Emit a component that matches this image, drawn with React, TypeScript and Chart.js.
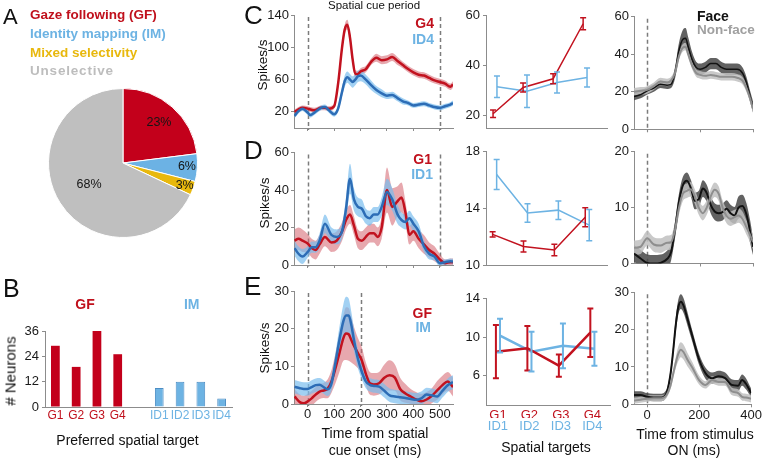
import React, { useEffect, useRef } from "react";
import { Chart, registerables } from "chart.js";

Chart.register(...registerables);

const W = 762;
const H = 460;
const FONT = "'Liberation Sans', Arial, Helvetica, sans-serif";
Chart.defaults.font.family = FONT;
Chart.defaults.color = "#1a1a1a";

const RED = "#C2121F";
const RED_TXT = "#C0101C";
const RED_BAND = "rgba(212, 96, 108, 0.55)";
const BLUE = "#2D6DB6";
const BLUE_BAND = "rgba(122, 190, 238, 0.7)";
const LBLUE = "#6DB3E3";
const FACE = "#121212";
const FACE_BAND = "rgba(70, 70, 70, 0.85)";
const NONFACE = "#8E8E8E";
const NONFACE_BAND = "rgba(192, 192, 192, 0.85)";
const AXIS = "#8C8C8C";
const CUE = "#7C7C7C";

// ---------- Panel A ----------
const cellClasses = ["Gaze following (GF)", "Identity mapping (IM)", "Mixed selectivity", "Unselective"];
const classPercents = [23, 6, 3, 68];
const classColors = ["#C3001B", "#6CB2E4", "#E8B80D", "#BFBFBF"];

// ---------- Panel B ----------
const gfTargets = ["G1", "G2", "G3", "G4"];
const imTargets = ["ID1", "ID2", "ID3", "ID4"];
const gfCounts = [29, 19, 36, 25];
const imCounts = [9, 12, 12, 4];
const countTicks = [0, 12, 24, 36];

// ---------- Time course (spatial cue) ----------
const cueTicks = [0, 100, 200, 300, 400, 500];

// C1: G4 vs ID4
const c1Time = [-50, -35, -20, 0, 10, 25, 50, 65, 80, 100, 115, 130, 140, 150, 160, 170, 180, 190, 200, 220, 240, 260, 280, 300, 320, 340, 360, 380, 400, 420, 440, 460, 480, 500, 520, 540, 550];
const c1G4 = [20, 23, 25, 24, 23, 22, 25, 25, 24, 27, 55, 100, 122, 128, 112, 85, 67, 67, 70, 73, 82, 87, 84, 85, 88, 83, 78, 73, 69, 66, 65, 62, 59, 57, 55, 51, 54];
const c1G4Sem = [3, 3, 3, 3, 3, 3, 3, 3, 3, 3, 5, 6, 6, 6, 6, 6, 5, 4, 4, 4, 4, 5, 5, 5, 5, 5, 4, 4, 4, 4, 4, 4, 4, 4, 4, 4, 4];
const c1ID4 = [15, 21, 24, 19, 16, 19, 25, 26, 22, 17, 24, 45, 58, 63, 60, 57, 60, 64, 65, 60, 53, 47, 43, 40, 41, 37, 33, 31, 28, 29, 30, 28, 26, 25, 27, 29, 31];
const c1ID4Sem = [3, 3, 3, 3, 3, 3, 3, 3, 3, 3, 4, 6, 7, 7, 7, 7, 7, 7, 7, 6, 6, 5, 5, 4, 4, 4, 4, 3, 3, 3, 3, 3, 3, 3, 3, 3, 3];
const c1YTicks = [20, 60, 100, 140];

// D1: G1 vs ID1
const d1Time = [-50, -35, -20, 0, 15, 30, 45, 65, 90, 110, 130, 145, 160, 175, 190, 205, 220, 235, 250, 265, 280, 300, 320, 340, 355, 370, 385, 400, 420, 440, 460, 480, 500, 520, 540, 550];
const d1G1 = [13, 14, 13, 11.5, 9, 8, 11, 15, 12, 13, 18, 24, 27, 21, 14, 13, 15, 17, 17, 15, 20, 40, 31, 34, 36, 28, 16, 18, 14, 11, 8, 6, 3, 1, 1.5, 1.5];
const d1G1Sem = [6, 6, 6, 5, 5, 5, 5, 5, 5, 5, 5, 5, 5, 5, 5, 5, 5, 5, 5, 5, 6, 12, 10, 8, 8, 6, 5, 5, 5, 5, 4, 4, 3, 2, 2, 2];
const d1ID1 = [9, 6, 4.5, 7, 9.5, 9.5, 13, 22, 16, 15, 18, 30, 46, 35, 31, 30, 26, 25, 27, 27, 31, 39, 35, 27, 24, 23, 25, 22, 18, 10, 6, 4.5, 1, 1.5, 2, 1.8];
const d1ID1Sem = [4, 4, 4, 3, 3, 3, 4, 5, 4, 4, 4, 6, 8, 6, 5, 5, 4, 4, 4, 4, 5, 7, 6, 5, 4, 4, 4, 4, 4, 3, 3, 2, 2, 1.5, 1.5, 1.5];
const d1YTicks = [0, 20, 40, 60];

// E1: GF vs IM population
const e1Time = [-50, -30, -15, 0, 15, 30, 45, 60, 75, 90, 105, 120, 135, 145, 155, 165, 175, 190, 205, 220, 235, 250, 270, 290, 310, 330, 350, 370, 390, 410, 430, 450, 470, 490, 510, 530, 550];
const e1GF = [2, 0.5, 0.2, 0.7, 1.5, 2.5, 3.3, 3.6, 4, 6, 9.5, 13.5, 17.5, 18.7, 18.5, 17, 15.5, 13.5, 11.5, 8, 5.5, 5.2, 5.5, 7, 7.6, 7, 4, 2.8, 2, 1.2, 0.7, 1.2, 2.2, 3.6, 5, 6, 4.5];
const e1GFSem = [2, 2, 2, 2, 2, 2, 2, 2, 2.5, 3, 4, 5, 6, 7, 7, 6, 5, 4, 3.5, 3, 3, 3, 3, 3.5, 4, 3.5, 3, 2.5, 2, 2, 2, 2, 2, 2.5, 2.5, 2.5, 2.5];
const e1IM = [4.6, 4.2, 4, 4, 4.5, 5, 5.1, 4.5, 3.9, 5.5, 11, 17, 22, 23.5, 23.5, 21, 17, 12, 8.5, 6, 5.1, 4.8, 4.6, 3.5, 2.3, 2, 1.8, 1.6, 1.3, 1.1, 1.5, 2.5, 2.3, 2, 3.5, 5, 5.8];
const e1IMSem = [1.8, 1.8, 1.8, 1.8, 1.8, 1.8, 1.8, 1.8, 1.8, 2, 2.5, 3.5, 4.5, 5, 4.5, 3.5, 3, 2.5, 2, 1.8, 1.8, 1.8, 1.8, 1.8, 1.8, 1.8, 1.8, 1.8, 1.8, 1.8, 1.8, 1.8, 1.8, 1.8, 1.8, 1.8, 1.8];
const e1YTicks = [0, 10, 20, 30];

// ---------- Spatial target tuning ----------
const targetNums = [1, 2, 3, 4];
const c2GF = [20.5, 31, 34.5, 56.5];
const c2GFErr = [1.5, 1.8, 2, 2.4];
const c2IM = [31.3, 29.5, 33, 35];
const c2IMErr = [4.3, 6.5, 4.2, 3.8];
const c2YTicks = [20, 40, 60];

const d2GF = [12.15, 11.3, 11.05, 13.35];
const d2GFErr = [0.18, 0.38, 0.4, 0.67];
const d2IM = [16.35, 13.65, 13.85, 12.8];
const d2IMErr = [1.05, 0.65, 0.65, 1.1];
const d2YTicks = [10, 14, 18];

const e2GF = [8.5, 8.85, 7.05, 10.45];
const e2GFErr = [2.75, 2.3, 1.15, 2.5];
const e2IM = [10.15, 8.5, 9.1, 8.8];
const e2IMErr = [1.75, 2.05, 2.3, 1.75];
const e2YTicks = [6, 10, 14];

// ---------- Face vs non-face ----------
const stimTicks = [0, 200, 400];

const c3Time = [-50, -25, 0, 25, 50, 75, 90, 105, 120, 135, 145, 155, 170, 185, 200, 220, 240, 260, 280, 300, 320, 340, 360, 375, 390, 400];
const c3Face = [17.5, 18.5, 20.5, 22, 24, 23.5, 24, 30, 42, 48, 48.5, 44, 37, 33, 32, 33, 35, 35, 33, 32, 32, 32, 30, 25, 17, 12];
const c3FaceSem = [2, 2, 2, 2, 2, 2, 2, 3, 4, 5, 5.5, 5, 4, 3, 3, 3, 3, 3, 3, 3, 3, 3, 3, 3, 3, 3];
const c3Non = [20, 20.5, 21, 23, 25.5, 25, 26, 30, 39, 43.5, 44, 40, 34, 30, 29, 28.5, 29, 28.5, 28, 28, 28, 27.5, 26, 22, 16, 11];
const c3NonSem = [2, 2, 2, 2, 2, 2, 2, 2, 2, 2, 2, 2, 2, 2, 2, 2, 2, 2, 2, 2, 2, 2, 2, 2, 2, 2];
const c3YTicks = [0, 20, 40, 60];

const d3Time = [-50, -25, 0, 25, 50, 75, 90, 105, 120, 135, 150, 165, 180, 195, 210, 225, 240, 255, 270, 285, 300, 315, 330, 345, 360, 375, 390, 400];
const d3Face = [1.8, 0.9, 0.1, 0, 0.1, 0.8, 2, 6, 11, 14, 14.8, 13.5, 11.2, 11.5, 13.4, 12.6, 10.5, 9.3, 9, 9.2, 9.8, 9, 8.6, 10, 10.3, 8.8, 5.5, 3];
const d3FaceSem = [1.5, 1.5, 1.5, 1.5, 1.5, 1.5, 1.5, 1.5, 1.5, 1.5, 1.5, 1.5, 1.5, 1.5, 1.5, 1.5, 1.5, 1.5, 1.5, 1.5, 1.5, 1.5, 1.5, 2, 2, 2, 2, 1.5];
const d3Non = [2.8, 3, 4.5, 3.4, 3.2, 3.7, 3.8, 6, 10, 12.5, 13, 13.3, 12, 10, 9, 10, 12, 13.2, 12.5, 10, 8.5, 8, 8.3, 8.6, 8, 6.5, 5, 3.8];
const d3NonSem = [1.3, 1.3, 1.3, 1.3, 1.3, 1.3, 1.3, 1.3, 1.3, 1.3, 1.3, 1.3, 1.3, 1.3, 1.3, 1.3, 1.3, 1.3, 1.3, 1.3, 1.3, 1.3, 1.3, 1.3, 1.3, 1.3, 1.3, 1.3];
const d3YTicks = [0, 10, 20];

const e3Time = [-50, -25, 0, 25, 50, 75, 90, 100, 110, 120, 130, 140, 155, 175, 200, 225, 250, 275, 300, 325, 350, 365, 380, 400];
const e3Face = [2.5, 2.5, 2, 1.8, 1.8, 3, 8, 14, 21, 26, 27.5, 26.5, 23, 18, 12, 8.3, 7, 7.5, 7, 5.2, 5, 6.5, 5.5, 3];
const e3FaceSem = [1, 1, 1, 1, 1, 1, 1.2, 1.5, 2, 2, 2, 2, 1.8, 1.5, 1.5, 1.5, 1.5, 1.5, 1.5, 1.5, 1.5, 1.5, 1.5, 1.2];
const e3Non = [1, 1.2, 1.5, 1.6, 1.6, 2.5, 5, 8, 11, 13.5, 14.6, 14, 12, 9.7, 6.5, 5.2, 6.5, 6, 6, 3.5, 3, 2, 1.8, 1.5];
const e3NonSem = [0.8, 0.8, 0.8, 0.8, 0.8, 0.8, 1, 1.2, 1.5, 2, 2, 2, 1.8, 1.5, 1.2, 1, 1, 1, 1, 1, 1, 1, 1, 1];
const e3YTicks = [0, 10, 20, 30];

// ---------- plugins ----------
const cuePlugin = {
  id: "cue",
  beforeDatasetsDraw(chart: any, _a: any, opts: any) {
    const lines: number[] = (opts && opts.lines) || [];
    if (!lines.length) return;
    const { top, bottom } = chart.chartArea;
    const ctx = chart.ctx;
    const xs = chart.scales.x;
    ctx.save();
    ctx.strokeStyle = CUE;
    ctx.lineWidth = 1.5;
    ctx.setLineDash([4, 3]);
    lines.forEach((v) => {
      const x = Math.round(xs.getPixelForValue(v)) + 0.5;
      ctx.beginPath();
      ctx.moveTo(x, top + 2);
      ctx.lineTo(x, bottom + 2);
      ctx.stroke();
    });
    ctx.restore();
  },
};

const errPlugin = {
  id: "errbars",
  afterDatasetsDraw(chart: any) {
    const ctx = chart.ctx;
    const ys = chart.scales.y;
    chart.data.datasets.forEach((ds: any, di: number) => {
      if (!ds.errs) return;
      const meta = chart.getDatasetMeta(di);
      ctx.save();
      ctx.strokeStyle = ds.borderColor;
      ctx.lineWidth = ds.errWidth || 1.5;
      meta.data.forEach((pt: any, i: number) => {
        const v = ds.data[i].y;
        const e = ds.errs[i];
        const x = pt.x;
        const y1 = ys.getPixelForValue(v + e);
        const y2 = ys.getPixelForValue(v - e);
        ctx.beginPath();
        ctx.moveTo(x, y1);
        ctx.lineTo(x, y2);
        ctx.moveTo(x - 3, y1);
        ctx.lineTo(x + 3, y1);
        ctx.moveTo(x - 3, y2);
        ctx.lineTo(x + 3, y2);
        ctx.stroke();
      });
      ctx.restore();
    });
  },
};

const pieTextPlugin = {
  id: "pieText",
  afterDatasetsDraw(chart: any, _a: any, opts: any) {
    const meta = chart.getDatasetMeta(0);
    const ctx = chart.ctx;
    ctx.save();
    ctx.fillStyle = "#151515";
    ctx.font = `12.5px ${FONT}`;
    ctx.textAlign = "center";
    ctx.textBaseline = "middle";
    meta.data.forEach((arc: any, i: number) => {
      const p = arc.getProps(["x", "y", "startAngle", "endAngle", "outerRadius"], true);
      const a = (p.startAngle + p.endAngle) / 2;
      const r = p.outerRadius * opts.radial[i];
      ctx.fillText(`${classPercents[i]}%`, p.x + Math.cos(a) * r, p.y + Math.sin(a) * r);
    });
    ctx.restore();
  },
};

// ---------- helpers ----------
function baseOpts(L: number, T: number, R: number, B: number, yW: number, xH: number) {
  return {
    responsive: false,
    animation: false,
    devicePixelRatio: 1,
    events: [],
    layout: { autoPadding: false, padding: { left: L - yW, top: T, right: W - R, bottom: H - B - xH } },
  };
}

function yAxis(min: number, max: number, ticks: number[], yW: number, pad = 2) {
  return {
    type: "linear",
    min,
    max,
    bounds: "data",
    afterBuildTicks: (s: any) => {
      s.ticks = ticks.map((v) => ({ value: v }));
    },
    afterFit: (s: any) => {
      s.width = yW;
    },
    ticks: { padding: pad, color: "#1a1a1a", font: { size: 13, family: FONT }, callback: (v: any) => String(v) },
    grid: { display: true, drawOnChartArea: false, drawTicks: true, tickLength: 3, color: AXIS },
    border: { display: true, color: AXIS, width: 1 },
  };
}

function timeXAxis(min: number, max: number, ticks: number[], labels: boolean, xH: number) {
  return {
    type: "linear",
    min,
    max,
    bounds: "data",
    afterBuildTicks: (s: any) => {
      s.ticks = ticks.map((v) => ({ value: v }));
    },
    afterFit: (s: any) => {
      s.height = xH;
    },
    ticks: { display: labels, autoSkip: false, maxRotation: 0, padding: 0, color: "#1a1a1a", font: { size: 13, family: FONT }, callback: (v: any) => String(v) },
    grid: { display: true, drawOnChartArea: false, drawTicks: true, tickLength: 3, color: AXIS },
    border: { display: true, color: AXIS, width: 1 },
  };
}

type Series = { mean: number[]; sem: number[]; line: string; band: string; lw: number };

function timeChart(o: {
  t: number[];
  series: Series[];
  box: number[];
  xr: number[];
  xt: number[];
  xLabels: boolean;
  yr: number[];
  yt: number[];
  cues: number[];
}) {
  const [L, T, R, B] = o.box;
  const n = o.series.length;
  const datasets: any[] = [];
  o.series.forEach((s, k) => {
    datasets.push({
      data: o.t.map((x, i) => ({ x, y: s.mean[i] + s.sem[i] })),
      borderWidth: 0,
      borderColor: "rgba(0,0,0,0)",
      pointRadius: 0,
      fill: "+1",
      backgroundColor: s.band,
      cubicInterpolationMode: "monotone",
      order: 20 - k,
    });
    datasets.push({
      data: o.t.map((x, i) => ({ x, y: s.mean[i] - s.sem[i] })),
      borderWidth: 0,
      borderColor: "rgba(0,0,0,0)",
      pointRadius: 0,
      fill: false,
      cubicInterpolationMode: "monotone",
      order: 20 - k,
    });
  });
  o.series.forEach((s, k) => {
    datasets.push({
      data: o.t.map((x, i) => ({ x, y: s.mean[i] })),
      borderColor: s.line,
      borderWidth: s.lw,
      pointRadius: 0,
      fill: false,
      cubicInterpolationMode: "monotone",
      order: n - k,
    });
  });
  return {
    type: "line",
    data: { datasets },
    options: {
      ...baseOpts(L, T, R, B, 40, 22),
      plugins: { legend: { display: false }, tooltip: { enabled: false }, cue: { lines: o.cues } },
      scales: {
        x: timeXAxis(o.xr[0], o.xr[1], o.xt, o.xLabels, 22),
        y: yAxis(o.yr[0], o.yr[1], o.yt, 40),
      },
    },
    plugins: [cuePlugin],
  };
}

function targetChart(o: {
  gf: number[];
  gfErr: number[];
  im: number[];
  imErr: number[];
  box: number[];
  xr: number[];
  yr: number[];
  yt: number[];
  lw: number;
  labels: boolean;
}) {
  const [L, T, R, B] = o.box;
  const scales: any = {
    x: {
      type: "linear",
      min: o.xr[0],
      max: o.xr[1],
      bounds: "data",
      weight: 0,
      afterBuildTicks: (s: any) => {
        s.ticks = targetNums.map((v) => ({ value: v }));
      },
      afterFit: (s: any) => {
        s.height = 13;
      },
      ticks: {
        display: o.labels,
        autoSkip: false,
        maxRotation: 0,
        padding: 2.5,
        color: RED_TXT,
        font: { size: 13, family: FONT },
        callback: (v: any) => gfTargets[Math.round(v) - 1],
      },
      grid: { display: false, drawTicks: false },
      border: { display: true, color: AXIS, width: 1 },
    },
    y: yAxis(o.yr[0], o.yr[1], o.yt, 40, 3),
  };
  if (o.labels) {
    scales.x2 = {
      type: "linear",
      position: "bottom",
      min: o.xr[0],
      max: o.xr[1],
      bounds: "data",
      weight: 1,
      afterBuildTicks: (s: any) => {
        s.ticks = targetNums.map((v) => ({ value: v }));
      },
      afterFit: (s: any) => {
        s.height = 14;
      },
      ticks: {
        autoSkip: false,
        maxRotation: 0,
        padding: 1,
        color: LBLUE,
        font: { size: 13, family: FONT },
        callback: (v: any) => imTargets[Math.round(v) - 1],
      },
      grid: { display: false, drawTicks: false },
      border: { display: false },
    };
  }
  return {
    type: "line",
    data: {
      datasets: [
        {
          data: targetNums.map((k, i) => ({ x: k - 0.065, y: o.gf[i] })),
          errs: o.gfErr,
          errWidth: o.lw > 2 ? 2 : 1.5,
          borderColor: RED,
          borderWidth: o.lw,
          pointRadius: 0,
          tension: 0,
          fill: false,
        },
        {
          data: targetNums.map((k, i) => ({ x: k + 0.065, y: o.im[i] })),
          errs: o.imErr,
          errWidth: o.lw > 2 ? 2 : 1.5,
          borderColor: LBLUE,
          borderWidth: o.lw,
          pointRadius: 0,
          tension: 0,
          fill: false,
        },
      ],
    },
    options: {
      ...baseOpts(L, T, R, B, 40, o.labels ? 27 : 13),
      plugins: { legend: { display: false }, tooltip: { enabled: false } },
      scales,
    },
    plugins: [errPlugin],
  };
}

function pieChart() {
  return {
    type: "pie",
    data: {
      labels: cellClasses,
      datasets: [{ data: classPercents, backgroundColor: classColors, borderColor: "#ffffff", borderWidth: 1 }],
    },
    options: {
      responsive: false,
      animation: false,
      devicePixelRatio: 1,
      events: [],
      layout: { autoPadding: false, padding: { left: 48, top: 88, right: W - 198, bottom: H - 238 } },
      plugins: { legend: { display: false }, tooltip: { enabled: false }, pieText: { radial: [0.73, 0.86, 0.88, 0.54] } },
    },
    plugins: [pieTextPlugin],
  };
}

function barChart() {
  const labels = [...gfTargets, "", ...imTargets];
  const values = [...gfCounts, null, ...imCounts];
  const fills = [...gfTargets.map(() => "#C3001B"), "rgba(0,0,0,0)", ...imTargets.map(() => LBLUE)];
  const edges = [...gfTargets.map(() => "#C3001B"), "rgba(0,0,0,0)", ...imTargets.map(() => "#4C8DC4")];
  const edgeW = [...gfTargets.map(() => 0), 0, ...imTargets.map(() => 1)];
  return {
    type: "bar",
    data: {
      labels,
      datasets: [
        { data: values, backgroundColor: fills, borderColor: edges, borderWidth: edgeW, barPercentage: 0.42, categoryPercentage: 1 },
      ],
    },
    options: {
      ...baseOpts(45, 331, 232, 407, 40, 25),
      plugins: { legend: { display: false }, tooltip: { enabled: false } },
      scales: {
        x: {
          type: "category",
          afterFit: (s: any) => {
            s.height = 25;
          },
          ticks: {
            autoSkip: false,
            maxRotation: 0,
            padding: 1.5,
            font: { size: 12, family: FONT },
            color: (c: any) => (c.index < 4 ? RED_TXT : LBLUE),
          },
          grid: { display: false, drawTicks: false },
          border: { display: true, color: AXIS, width: 1 },
        },
        y: yAxis(0, 36, countTicks, 40, 3),
      },
    },
  };
}

// ---------- components ----------
function ChartBox({ make }: { make: () => any }) {
  const ref = useRef<HTMLCanvasElement | null>(null);
  useEffect(() => {
    if (!ref.current) return;
    const chart = new Chart(ref.current, make());
    return () => chart.destroy();
  }, []);
  return (
    <canvas
      ref={ref}
      width={W}
      height={H}
      style={{ position: "absolute", left: 0, top: 0, width: W, height: H }}
    />
  );
}

type TP = {
  x: number;
  y: number;
  s: string;
  size?: number;
  color?: string;
  bold?: boolean;
  align?: "left" | "center" | "right";
  rot?: number;
  ls?: number;
};

function Txt({ x, y, s, size = 13, color = "#111", bold = false, align = "left", rot = 0, ls = 0 }: TP) {
  const tx = align === "left" ? "0%" : align === "center" ? "-50%" : "-100%";
  return (
    <div
      style={{
        position: "absolute",
        left: x,
        top: y,
        transform: `translate(${tx}, -50%)${rot ? ` rotate(${rot}deg)` : ""}`,
        font: `${bold ? "bold " : ""}${size}px ${FONT}`,
        lineHeight: 1,
        color,
        whiteSpace: "nowrap",
        letterSpacing: ls,
      }}
    >
      {s}
    </div>
  );
}

export default function App() {
  const charts: (() => any)[] = [
    pieChart,
    barChart,
    () =>
      timeChart({
        t: c1Time,
        series: [
          { mean: c1G4, sem: c1G4Sem, line: RED, band: RED_BAND, lw: 2.5 },
          { mean: c1ID4, sem: c1ID4Sem, line: BLUE, band: BLUE_BAND, lw: 2.5 },
        ],
        box: [294, 15, 453, 128],
        xr: [-52, 550],
        xt: cueTicks,
        xLabels: false,
        yr: [0, 140],
        yt: c1YTicks,
        cues: [0, 500],
      }),
    () =>
      timeChart({
        t: d1Time,
        series: [
          { mean: d1G1, sem: d1G1Sem, line: RED, band: RED_BAND, lw: 2.5 },
          { mean: d1ID1, sem: d1ID1Sem, line: BLUE, band: BLUE_BAND, lw: 2.5 },
        ],
        box: [294, 152.5, 453, 265],
        xr: [-52, 550],
        xt: cueTicks,
        xLabels: false,
        yr: [0, 60],
        yt: d1YTicks,
        cues: [0, 500],
      }),
    () =>
      timeChart({
        t: e1Time,
        series: [
          { mean: e1GF, sem: e1GFSem, line: RED, band: RED_BAND, lw: 2.5 },
          { mean: e1IM, sem: e1IMSem, line: BLUE, band: BLUE_BAND, lw: 2.5 },
        ],
        box: [294, 291, 453, 404],
        xr: [-52, 550],
        xt: cueTicks,
        xLabels: true,
        yr: [0, 30],
        yt: e1YTicks,
        cues: [0, 200],
      }),
    () =>
      targetChart({ gf: c2GF, gfErr: c2GFErr, im: c2IM, imErr: c2IMErr, box: [486, 15, 607, 128], xr: [0.7, 4.73], yr: [14.8, 60], yt: c2YTicks, lw: 1.5, labels: false }),
    () =>
      targetChart({ gf: d2GF, gfErr: d2GFErr, im: d2IM, imErr: d2IMErr, box: [486, 151, 607, 265], xr: [0.72, 4.64], yr: [10, 18], yt: d2YTicks, lw: 1.5, labels: false }),
    () =>
      targetChart({ gf: e2GF, gfErr: e2GFErr, im: e2IM, imErr: e2IMErr, box: [486, 298.3, 610, 405], xr: [0.62, 4.56], yr: [3, 14], yt: e2YTicks, lw: 2.5, labels: true }),
    () =>
      timeChart({
        t: c3Time,
        series: [
          { mean: c3Face, sem: c3FaceSem, line: FACE, band: FACE_BAND, lw: 1.5 },
          { mean: c3Non, sem: c3NonSem, line: NONFACE, band: NONFACE_BAND, lw: 2 },
        ],
        box: [634, 16.7, 753, 129.3],
        xr: [-50, 400],
        xt: stimTicks,
        xLabels: false,
        yr: [0, 60],
        yt: c3YTicks,
        cues: [0],
      }),
    () =>
      timeChart({
        t: d3Time,
        series: [
          { mean: d3Face, sem: d3FaceSem, line: FACE, band: FACE_BAND, lw: 2 },
          { mean: d3Non, sem: d3NonSem, line: NONFACE, band: NONFACE_BAND, lw: 2 },
        ],
        box: [634, 151.7, 753, 263.5],
        xr: [-50, 400],
        xt: stimTicks,
        xLabels: false,
        yr: [0, 20],
        yt: d3YTicks,
        cues: [0],
      }),
    () =>
      timeChart({
        t: e3Time,
        series: [
          { mean: e3Face, sem: e3FaceSem, line: FACE, band: FACE_BAND, lw: 2 },
          { mean: e3Non, sem: e3NonSem, line: NONFACE, band: NONFACE_BAND, lw: 2 },
        ],
        box: [634, 292.3, 753, 404.3],
        xr: [-50, 400],
        xt: stimTicks,
        xLabels: true,
        yr: [0, 30],
        yt: e3YTicks,
        cues: [0],
      }),
  ];

  return (
    <div style={{ position: "absolute", left: 0, top: 0, width: W, height: H, overflow: "hidden", background: "#fff" }}>
      {charts.map((m, i) => (
        <ChartBox key={i} make={m} />
      ))}

      {/* Panel A */}
      <Txt x={3} y={17} s="A" size={22} />
      <Txt x={30} y={15} s={cellClasses[0]} size={13.5} bold color={RED_TXT} />
      <Txt x={30} y={34.3} s={cellClasses[1]} size={13.5} bold color={LBLUE} />
      <Txt x={30} y={53.3} s={cellClasses[2]} size={13.5} bold color="#E8B80D" />
      <Txt x={30} y={71} s={cellClasses[3]} size={13.5} bold color="#BDBDBD" ls={0.8} />

      {/* Panel B */}
      <Txt x={3} y={287.5} s="B" size={25} />
      <Txt x={85} y={303.7} s="GF" size={14} bold color={RED_TXT} align="center" />
      <Txt x={191.7} y={303.7} s="IM" size={14} bold color={LBLUE} align="center" />
      <Txt x={9.5} y={371} s="# Neurons" size={15} align="center" rot={-90} />
      <Txt x={127.5} y={439.5} s="Preferred spatial target" size={14} align="center" />

      {/* Row letters */}
      <Txt x={244} y={15} s="C" size={26} />
      <Txt x={244} y={150} s="D" size={26} />
      <Txt x={244} y={286} s="E" size={26} />

      <Txt x={374} y={5.5} s="Spatial cue period" size={11.5} align="center" />
      <Txt x={263} y={65} s="Spikes/s" size={13.5} align="center" rot={-90} />
      <Txt x={264.5} y={203} s="Spikes/s" size={13.5} align="center" rot={-90} />
      <Txt x={265} y={348} s="Spikes/s" size={13.5} align="center" rot={-90} />

      <Txt x={434} y={23} s="G4" size={14} bold color={RED_TXT} align="right" />
      <Txt x={434} y={39} s="ID4" size={14} bold color={LBLUE} align="right" />
      <Txt x={432} y={159} s="G1" size={14} bold color={RED_TXT} align="right" />
      <Txt x={433} y={174} s="ID1" size={14} bold color={LBLUE} align="right" />
      <Txt x={432} y={313} s="GF" size={14} bold color={RED_TXT} align="right" />
      <Txt x={431} y={327} s="IM" size={14} bold color={LBLUE} align="right" />

      <Txt x={697} y={15.5} s="Face" size={14} bold color={FACE} />
      <Txt x={697} y={30} s="Non-face" size={13.5} bold color="#A0A0A0" />

      <Txt x={375} y={433} s="Time from spatial" size={14} align="center" />
      <Txt x={375} y={449.5} s="cue onset (ms)" size={14} align="center" />
      <Txt x={546} y={446.5} s="Spatial targets" size={14} align="center" />
      <Txt x={695} y={433.5} s="Time from stimulus" size={14} align="center" />
      <Txt x={694} y={450} s="ON (ms)" size={14} align="center" />
    </div>
  );
}
